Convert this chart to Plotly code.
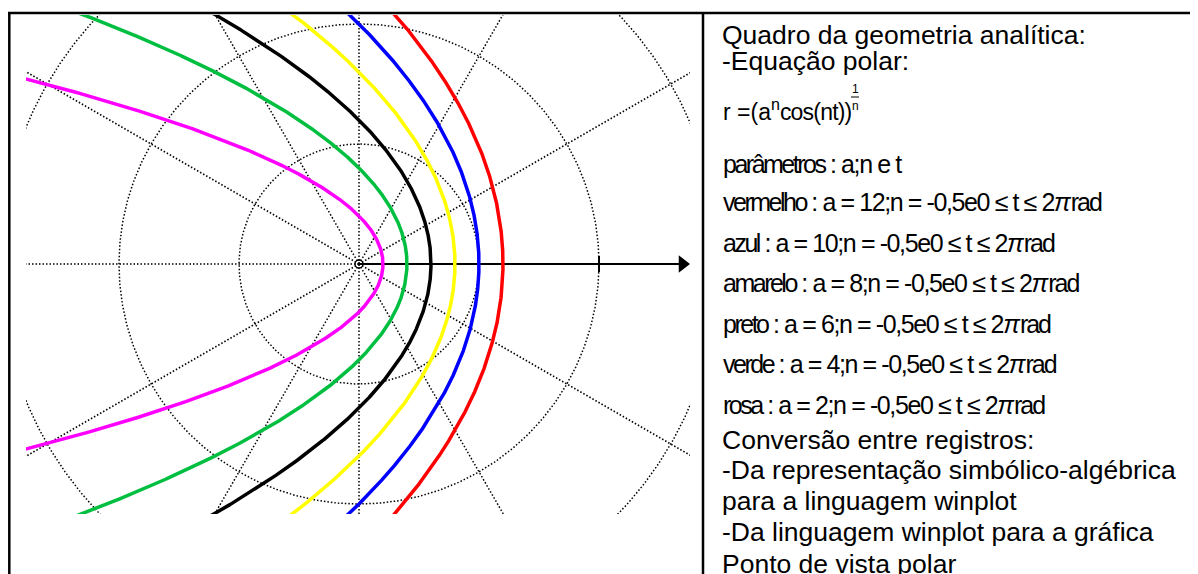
import numpy as np
import plotly.graph_objects as go

# ---------------- data ----------------
a_values = [12, 10, 8, 6, 4, 2]
color_names = ["vermelho", "azul", "amarelo", "preto", "verde", "rosa"]
curve_colors = ["#FF0000", "#0000FF", "#FFFF00", "#000000", "#00BF40", "#FF00FF"]
n_value = -0.5
grid_radii = [10, 20, 30]
grid_angles_deg = [30, 60, 90, 120, 150, 180, 210, 240, 270, 300, 330]
axis_ticks = [20]

header_lines = ["Quadro da geometria analítica:", "-Equação polar:"]
footer_lines = [
    "Conversão entre registros:",
    "-Da representação simbólico-algébrica",
    "para a linguagem winplot",
    "-Da linguagem winplot para a gráfica",
    "Ponto de vista polar",
]

# ---------------- layout helpers ----------------
PAGE_OFF = 8                      # browser body margin
W, H = 1198 - PAGE_OFF, 574 - PAGE_OFF
OX, OY, S = 359, 264, 12.0          # origin (page px) and pixels per unit
WX0, WX1, WY0, WY1 = 26, 690, 15, 514  # plot window (page px)


def pxx(x):
    return (x - PAGE_OFF) / W


def pyy(y):
    return 1 - (y - PAGE_OFF) / H


fig = go.Figure()
DOT = dict(color="black", width=1.5, dash="1.5px,2px")

# grid circles
th = np.linspace(0, 2 * np.pi, 721)
for R in grid_radii:
    fig.add_trace(go.Scatter(x=R * np.cos(th), y=R * np.sin(th), mode="lines",
                             line=DOT, hoverinfo="skip", showlegend=False))
# radial grid lines
for ang in grid_angles_deg:
    rr = np.array([0, 50])
    fig.add_trace(go.Scatter(x=rr * np.cos(np.radians(ang)), y=rr * np.sin(np.radians(ang)),
                             mode="lines", line=DOT, hoverinfo="skip", showlegend=False))

# polar axis (solid line with arrow)
x_arrow_base = (679 - OX) / S
fig.add_trace(go.Scatter(x=[0, x_arrow_base], y=[0, 0], mode="lines",
                         line=dict(color="black", width=2), hoverinfo="skip", showlegend=False))
fig.add_trace(go.Scatter(x=[(682.5 - OX) / S], y=[0], mode="markers",
                         marker=dict(symbol="triangle-right", size=15, color="black"),
                         cliponaxis=False, hoverinfo="skip", showlegend=False))
for tk in axis_ticks:
    fig.add_trace(go.Scatter(x=[tk, tk], y=[-8 / S, 8 / S], mode="lines",
                             line=dict(color="black", width=2), hoverinfo="skip", showlegend=False))

# curves r = (a^n cos(n t))^(1/n), 0 <= t <= 2pi
t = np.linspace(-np.pi, np.pi, 6001)[1:-1]
for a, col, name in zip(a_values, curve_colors, color_names):
    r = (a ** n_value * np.cos(n_value * t)) ** (1 / n_value)
    keep = r < 120
    fig.add_trace(go.Scatter(x=(r * np.cos(t))[keep], y=(r * np.sin(t))[keep], mode="lines",
                             line=dict(color=col, width=3.5), name=name,
                             hoverinfo="skip", showlegend=False))

# origin ring
fig.add_trace(go.Scatter(x=[0], y=[0], mode="markers",
                         marker=dict(symbol="circle-open", size=8, color="black",
                                     line=dict(width=1.3, color="black")),
                         hoverinfo="skip", showlegend=False))

fig.update_xaxes(range=[(WX0 - OX) / S, (WX1 - OX) / S], domain=[pxx(WX0), pxx(WX1)],
                 visible=False, fixedrange=True)
fig.update_yaxes(range=[(OY - WY1) / S, (OY - WY0) / S], domain=[pyy(WY1), pyy(WY0)],
                 visible=False, fixedrange=True)

# table borders
shapes = []
bw = 2.5
shapes.append(dict(type="line", xref="paper", yref="paper", x0=pxx(8), x1=pxx(1200),
                   y0=pyy(13), y1=pyy(13), line=dict(color="black", width=bw)))
shapes.append(dict(type="line", xref="paper", yref="paper", x0=pxx(9.3), x1=pxx(9.3),
                   y0=pyy(12), y1=pyy(580), line=dict(color="black", width=bw)))
shapes.append(dict(type="line", xref="paper", yref="paper", x0=pxx(703), x1=pxx(703),
                   y0=pyy(12), y1=pyy(580), line=dict(color="black", width=bw)))

FONT = "Liberation Sans, Arial, sans-serif"
annotations = []


def add_text(txt, x, y, size, family=FONT, anchor="left"):
    annotations.append(dict(text=txt, xref="paper", yref="paper", x=pxx(x), y=pyy(y),
                            xanchor=anchor, yanchor="middle", showarrow=False,
                            font=dict(family=family, size=size, color="black")))


def tight(s, px):
    return f'<span style="letter-spacing:{px}px">{s}</span>'


TX = 720
add_text(header_lines[0], TX, 35, 26.5)
add_text(header_lines[1], TX, 61, 26.5)

# formula r = (a^n cos(nt))^(1/n) with a stacked exponent 1/n
F = 110
add_text("r =(a<sup>n</sup>" + tight("cos(nt))", -0.8), TX + 1, F, 23)
add_text("1", 855, F - 21, 12, FONT, "center")
add_text("n", 855, F - 4, 12, FONT, "center")
shapes.append(dict(type="line", xref="paper", yref="paper", x0=pxx(851), x1=pxx(859),
                   y0=pyy(F - 13), y1=pyy(F - 13), line=dict(color="black", width=1)))

add_text(tight("parâmetros", -2.5) + tight(" : a;n e t", -1.4), TX + 1, 164, 25)

ys = [202, 243, 283, 324, 364, 405]
nstr = str(n_value).replace(".", ",")
for name, a, y in zip(color_names, a_values, ys):
    txt = (tight(name, -2.5) + tight(f" : a = {a};n = {nstr}e0 ≤ t ≤ 2", -1.4)
           + "<i>π</i>" + tight("rad", -2))
    add_text(txt, TX + 1, y, 25)

fy = [440, 470, 501, 532, 564]
for line, y in zip(footer_lines, fy):
    add_text(line, TX, y, 26.5)

fig.update_layout(width=W, height=H, margin=dict(l=0, r=0, t=0, b=0),
                  paper_bgcolor="white", plot_bgcolor="white",
                  shapes=shapes, annotations=annotations, showlegend=False)

fig.write_html("out.html")
